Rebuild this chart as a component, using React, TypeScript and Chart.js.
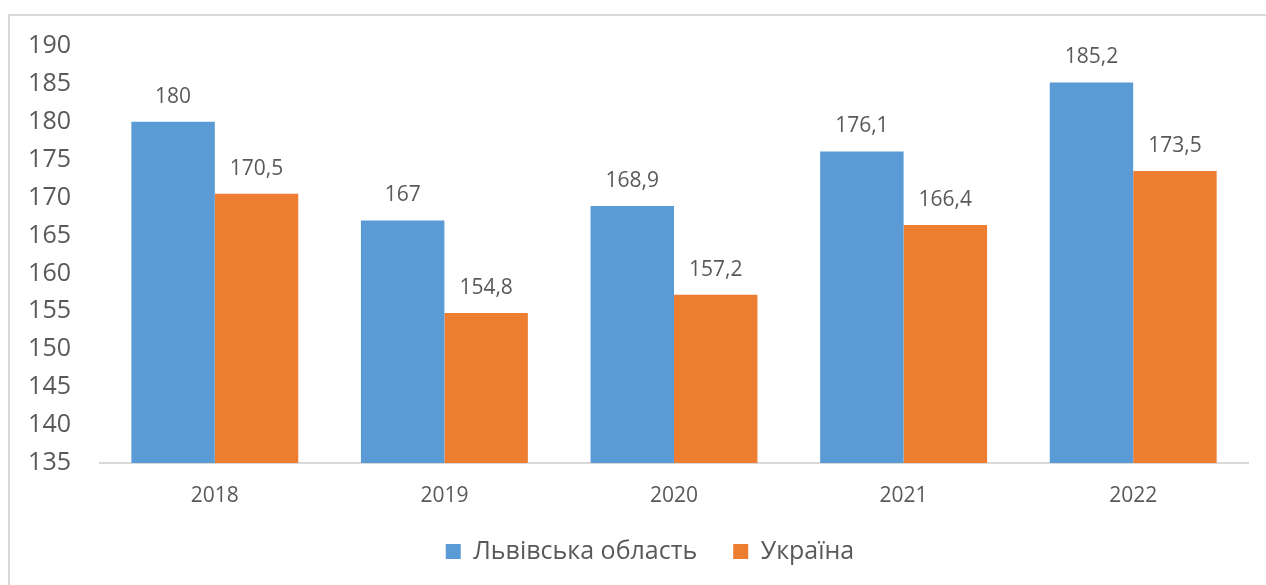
import React, { useEffect, useRef } from "react";
import { Chart, registerables } from "chart.js";

Chart.register(...registerables);

const categories = ["2018", "2019", "2020", "2021", "2022"];
const lvivValues = [180, 167, 168.9, 176.1, 185.2];
const ukraineValues = [170.5, 154.8, 157.2, 166.4, 173.5];
const seriesNames = ["Львівська область", "Україна"];
const yMin = 135;
const yMax = 190;
const yStep = 5;

const FONT = "'Open Sans', 'Noto Sans', sans-serif";
const TEXT = "#595959";

const fmt = (v: number) => String(v).replace(".", ",");

const dataLabels = {
  id: "dataLabels",
  afterDatasetsDraw(chart: any) {
    const ctx = chart.ctx;
    ctx.save();
    ctx.font = `21px ${FONT}`;
    ctx.fillStyle = TEXT;
    ctx.textAlign = "center";
    ctx.textBaseline = "middle";
    chart.data.datasets.forEach((ds: any, i: number) => {
      const meta = chart.getDatasetMeta(i);
      meta.data.forEach((el: any, j: number) => {
        ctx.fillText(fmt(ds.data[j]), el.x, el.y - 25);
      });
    });
    ctx.restore();
  },
};

const frame = {
  id: "frame",
  beforeDraw(chart: any) {
    const ctx = chart.ctx;
    ctx.save();
    ctx.fillStyle = "#ffffff";
    ctx.fillRect(0, 0, chart.width, chart.height);
    ctx.strokeStyle = "#d9d9d9";
    ctx.lineWidth = 2;
    ctx.beginPath();
    ctx.moveTo(9, chart.height);
    ctx.lineTo(9, 15);
    ctx.lineTo(chart.width, 15);
    ctx.stroke();
    ctx.restore();
  },
};

const legendShift = {
  id: "legendShift",
  afterLayout(chart: any) {
    const lg = chart.legend;
    if (lg) {
      lg.left += 26;
      lg.right += 26;
    }
  },
};

export default function App() {
  const ref = useRef<HTMLCanvasElement>(null);
  useEffect(() => {
    if (!ref.current) return;
    const chart = new Chart(ref.current, {
      type: "bar",
      data: {
        labels: categories,
        datasets: [
          {
            label: seriesNames[0],
            data: lvivValues,
            backgroundColor: "#5b9bd5",
            barPercentage: 1,
            categoryPercentage: 0.727,
          },
          {
            label: seriesNames[1],
            data: ukraineValues,
            backgroundColor: "#ed7d31",
            barPercentage: 1,
            categoryPercentage: 0.727,
          },
        ],
      },
      options: {
        animation: false,
        responsive: true,
        maintainAspectRatio: false,
        layout: { padding: { top: 46, right: 18, left: 0, bottom: 11 } },
        plugins: {
          tooltip: { enabled: false },
          legend: {
            position: "bottom",
            labels: {
              boxWidth: 15,
              boxHeight: 15,
              padding: 36,
              color: TEXT,
              font: { family: FONT, size: 25 },
            },
          },
        },
        scales: {
          x: {
            grid: { display: false, drawTicks: false },
            border: { display: true, color: "#d9d9d9", width: 2 },
            ticks: { color: TEXT, font: { family: FONT, size: 21 }, padding: 20 },
            afterFit(scale: any) {
              scale.height = 40;
            },
          },
          y: {
            min: yMin,
            max: yMax,
            grid: { display: false, drawTicks: false },
            border: { display: false },
            ticks: {
              stepSize: yStep,
              color: TEXT,
              font: { family: FONT, size: 25 },
              padding: 29,
            },
            afterFit(scale: any) {
              scale.width = 100;
            },
          },
        },
      },
      plugins: [frame, legendShift, dataLabels],
    });
    return () => chart.destroy();
  }, []);
  return (
    <div style={{ position: "absolute", left: 0, top: 0, width: 1266, height: 585 }}>
      <canvas ref={ref} />
    </div>
  );
}
